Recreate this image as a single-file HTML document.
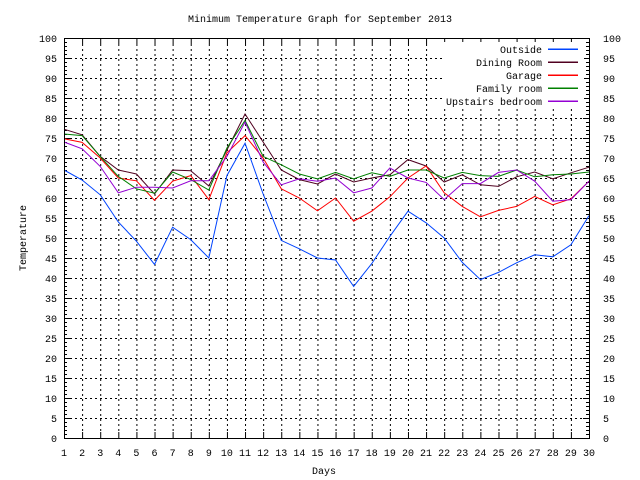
<!DOCTYPE html>
<html><head><meta charset="utf-8"><style>
body{margin:0;background:#fff;}
svg{display:block;font-family:"Liberation Mono",monospace;font-size:10px;}
</style></head><body>
<svg id="chart" width="640" height="480" xmlns="http://www.w3.org/2000/svg"></svg>
<script>
const days = [1,2,3,4,5,6,7,8,9,10,11,12,13,14,15,16,17,18,19,20,21,22,23,24,25,26,27,28,29,30];
const outside = [67,64.5,60.8,54,49.2,43.4,52.7,49.6,45,65.6,73.7,61,49.4,47.3,45,44.5,37.9,43.6,50.4,56.7,53.8,50,43.9,39.6,41.4,43.8,45.8,45.3,48.3,55.6];
const dining = [77.2,75.8,70.4,67,66,61,67,66.8,63,72,81,74,67,64.6,63.5,66,64,65,65.8,69.6,68,64,65.8,63.3,62.9,65.3,66.5,64.8,66.3,67.7];
const garage = [74.8,73.9,70,65,64.3,59.4,64.2,65.6,59.6,71.3,75.6,70,62.3,60,56.8,60,54.2,56.7,60.3,65,68,61.3,57.9,55.3,56.9,57.9,60.4,58.3,59.8,64.2];
const family = [76,75.6,70.4,65.4,62.3,61.2,66.5,64.6,62,72.5,79.4,70.4,68.3,66,64.8,66.4,64.8,66.3,65.4,67,67,65,66.4,65.6,65.4,67,65.3,65.8,66,66.5];
const upstairs = [74,72.3,67.9,61.3,62.7,62.7,62.5,64.3,64.3,70.4,79,69,63.3,64.8,64.2,65,61.3,62.5,67.5,65,63.9,59.6,63.6,63.6,66.4,67,64.2,59.2,59.6,64.2];
const seriesNames = ["Outside","Dining Room","Garage","Family room","Upstairs bedroom"];
const yTicks = [0,5,10,15,20,25,30,35,40,45,50,55,60,65,70,75,80,85,90,95,100];

const NS="http://www.w3.org/2000/svg";
const svg=document.getElementById('chart');
const L=64,R=589,T=38,B=438;
const xs=d=>L+(d-1)*(R-L)/29;
const ys=v=>B-(v-0)*(B-T)/100;
function mk(tag,attrs,parent){const e=document.createElementNS(NS,tag);for(const k in attrs)e.setAttribute(k,attrs[k]);(parent||svg).appendChild(e);return e;}

const grid=mk('g',{stroke:'#000','stroke-width':1,'stroke-dasharray':'2,3'});


yTicks.forEach(v=>{if(v>0&&v<100)mk('line',{x1:L+6,x2:R-6,y1:ys(v)+0.5,y2:ys(v)+0.5},grid);});
days.forEach(d=>{if(d>1&&d<30)mk('line',{x1:xs(d)+0.5,x2:xs(d)+0.5,y1:T+6,y2:B-6},grid);});

const tk=mk('g',{stroke:'#000','stroke-width':1});
for(let v=0;v<=100;v++){const y=ys(v)+0.5;const len=v%5===0?6:3;
 mk('line',{x1:L,x2:L+len,y1:y,y2:y},tk);mk('line',{x1:R-len,x2:R,y1:y,y2:y},tk);}
days.forEach(d=>{const x=xs(d)+0.5;mk('line',{x1:x,x2:x,y1:B,y2:B-6},tk);mk('line',{x1:x,x2:x,y1:T,y2:T+6},tk);});

yTicks.forEach(v=>{
 const a=mk('text',{x:57,y:ys(v)+4,'text-anchor':'end'});a.textContent=v;
 
 
 const b=mk('text',{x:603,y:ys(v)+4,'text-anchor':'start'});b.textContent=v;
 
 
});
days.forEach(d=>{const t=mk('text',{x:xs(d),y:456,'text-anchor':'middle'});t.textContent=d;
 
 });

const colors=['#0044ff','#500020','#ff0000','#008000','#9400d3'];
[outside,dining,garage,family,upstairs].forEach((s,i)=>{
 const p=mk('polyline',{fill:'none',stroke:colors[i],'stroke-width':1,points:s.map((v,j)=>xs(days[j])+','+ys(v)).join(' ')});
 
 
});

const lg=mk('g',{});


mk('rect',{x:444,y:42,width:140,height:64,fill:'#fff'},lg);
seriesNames.forEach((n,i)=>{const y=49+i*13;
 const t=mk('text',{x:542,y:y+4,'text-anchor':'end'},lg);t.textContent=n;
 
 
 mk('line',{x1:548,x2:578,y1:y,y2:y,stroke:colors[i],'stroke-width':1.5,'shape-rendering':'crispEdges'},lg);});

const fr=mk('rect',{x:L+0.5,y:T+0.5,width:R-L,height:B-T,fill:'none',stroke:'#000'});



const title=mk('text',{x:320,y:22,'text-anchor':'middle'});title.textContent='Minimum Temperature Graph for September 2013';


const xl=mk('text',{x:324,y:474,'text-anchor':'middle'});xl.textContent='Days';


const yl=mk('text',{x:0,y:0,'text-anchor':'middle',transform:'translate(26,238) rotate(-90)'});yl.textContent='Temperature';


</script>
</body></html>
